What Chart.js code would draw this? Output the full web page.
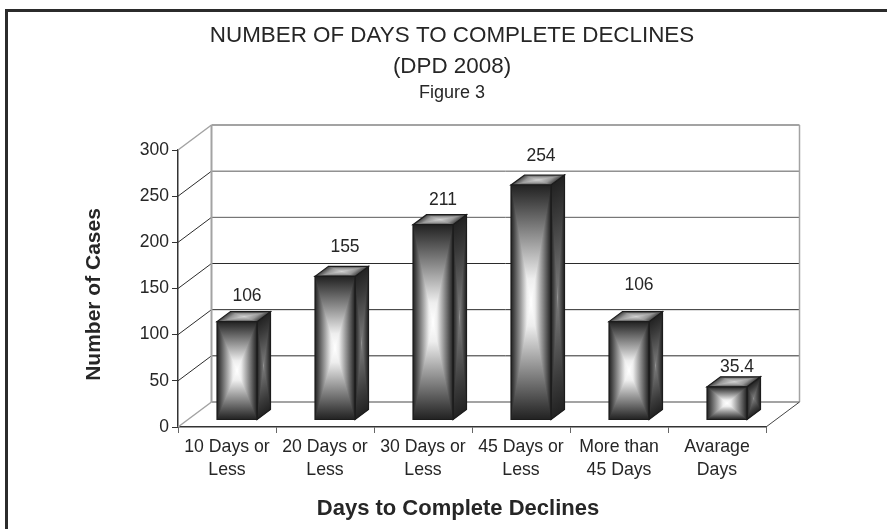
<!DOCTYPE html>
<html lang="en">

<head>
    <meta charset="UTF-8">
    <title>Number of Days to Complete Declines</title>
    <script src="https://cdn.jsdelivr.net/npm/chart.js"></script>
    <style>
        body {
            margin: 0;
            background: #fff;
        }

        #frame {
            position: absolute;
            left: 5px;
            top: 9px;
            width: 882px;
            height: 520px;
            box-sizing: border-box;
            border-top: 3px solid #2b2b2b;
            border-left: 3px solid #2b2b2b;
        }

        #chart {
            position: absolute;
            left: 0;
            top: 0;
        }
    </style>
</head>

<body>
    <div id="frame"></div>
    <canvas id="chart" width="887" height="529"></canvas>

    <script>
        // Data
        const categories = [
            ['10 Days or', 'Less'],
            ['20 Days or', 'Less'],
            ['30 Days or', 'Less'],
            ['45 Days or', 'Less'],
            ['More than', '45 Days'],
            ['Avarage', 'Days']
        ];
        const cases = [106, 155, 211, 254, 106, 35.4];
        const titleLines = ['NUMBER OF DAYS TO COMPLETE DECLINES', '(DPD 2008)'];
        const subtitleText = 'Figure 3';
        const xAxisTitle = 'Days to Complete Declines';
        const yAxisTitle = 'Number of Cases';

        // 3D look
        const WALL_DX = 33.5, WALL_DY = 25;   // axis -> back wall
        const BAR_DX = 10, BAR_DY = 7.5;      // axis -> bar front
        const SIDE_DX = 13.5, SIDE_DY = 10;   // bar front -> bar back
        const labelLift = [33, 37, 32, 36, 44, 27];
        const FONT = '"Liberation Sans", Arial, sans-serif';
        const TEXT = '#262626';

        function line(ctx, x1, y1, x2, y2, color, width) {
            ctx.beginPath();
            ctx.moveTo(x1, y1);
            ctx.lineTo(x2, y2);
            ctx.strokeStyle = color;
            ctx.lineWidth = width;
            ctx.stroke();
        }

        // Rectangular "from centre" gradient on the parallelogram origin, u, v
        function ringFace(ctx, ox, oy, ux, uy, vx, vy, stops) {
            const grad = (x1, y1, x2, y2) => {
                const g = ctx.createLinearGradient(x1, y1, x2, y2);
                stops.forEach(s => g.addColorStop(s[0], s[1]));
                return g;
            };
            ctx.save();
            ctx.transform(ux, uy, vx, vy, ox, oy);
            // left/right part first, so no seams show under the two triangles
            ctx.fillStyle = grad(0, 0, 0.5, 0);
            ctx.fillRect(0, 0, 0.5, 1);
            ctx.fillStyle = grad(1, 0, 0.5, 0);
            ctx.fillRect(0.5, 0, 0.5, 1);
            [[0, 0.5], [1, 0.5]].forEach(p => {
                ctx.fillStyle = grad(0, p[0], 0, p[1]);
                ctx.beginPath();
                ctx.moveTo(0, p[0]);
                ctx.lineTo(1, p[0]);
                ctx.lineTo(0.5, 0.5);
                ctx.closePath();
                ctx.fill();
            });
            ctx.restore();
            ctx.beginPath();
            ctx.moveTo(ox, oy);
            ctx.lineTo(ox + ux, oy + uy);
            ctx.lineTo(ox + ux + vx, oy + uy + vy);
            ctx.lineTo(ox + vx, oy + vy);
            ctx.closePath();
            ctx.strokeStyle = '#1c1c1c';
            ctx.lineWidth = 1.2;
            ctx.stroke();
        }

        const FRONT = [[0, '#222'], [0.1, '#3a3a3a'], [0.5, '#a0a0a0'], [0.8, '#eee'], [1, '#fff']];
        const SIDE = [[0, '#222'], [0.3, '#3a3a3a'], [0.8, '#6a6a6a'], [1, '#7a7a7a']];
        const TOP = [[0, '#444'], [0.4, '#999'], [1, '#d0d0d0']];

        // Walls, floor and grid behind the bars
        const wallsPlugin = {
            id: 'walls',
            beforeDatasetsDraw(chart) {
                const ctx = chart.ctx;
                const x = chart.scales.x, y = chart.scales.y;
                const gray = '#a3a3a3';
                ctx.save();
                y.ticks.forEach(t => {
                    const py = y.getPixelForValue(t.value);
                    if (t.value === 0 || t.value === 300) return;
                    const c = t.value >= 200 ? '#5a5a5a' : '#2b2b2b';
                    line(ctx, x.left, py, x.left + WALL_DX, py - WALL_DY, '#2b2b2b', 1);
                    line(ctx, x.left + WALL_DX, py - WALL_DY, x.right + WALL_DX, py - WALL_DY, c, 1);
                });
                const top = y.top, bottom = y.bottom;
                line(ctx, x.left + WALL_DX, top - WALL_DY, x.left + WALL_DX, bottom - WALL_DY, gray, 2);
                line(ctx, x.right + WALL_DX, top - WALL_DY, x.right + WALL_DX, bottom - WALL_DY, gray, 1.5);
                line(ctx, x.left + WALL_DX, top - WALL_DY, x.right + WALL_DX, top - WALL_DY, gray, 2);
                line(ctx, x.left + WALL_DX, bottom - WALL_DY, x.right + WALL_DX, bottom - WALL_DY, gray, 2);
                line(ctx, x.left, top, x.left + WALL_DX, top - WALL_DY, gray, 1.5);
                line(ctx, x.left, bottom, x.left + WALL_DX, bottom - WALL_DY, gray, 1.5);
                line(ctx, x.right, bottom, x.right + WALL_DX, bottom - WALL_DY, '#444', 1);
                ctx.restore();
            },
            // The library's bars are transparent: their positions carry the 3D boxes
            afterDatasetsDraw(chart) {
                const ctx = chart.ctx;
                const bars = chart.getDatasetMeta(0).data;
                ctx.save();
                bars.forEach((bar, i) => {
                    const w = bar.width;
                    const left = bar.x - w / 2 + BAR_DX;
                    const top = bar.y - BAR_DY;
                    const h = bar.base - bar.y + 0.5;
                    ringFace(ctx, left + w, top, SIDE_DX, -SIDE_DY, 0, h, SIDE);
                    ringFace(ctx, left, top, w, 0, SIDE_DX, -SIDE_DY, TOP);
                    ringFace(ctx, left, top, w, 0, 0, h, FRONT);

                    ctx.fillStyle = TEXT;
                    ctx.font = '17.5px ' + FONT;
                    ctx.textAlign = 'center';
                    ctx.textBaseline = 'middle';
                    ctx.fillText(String(cases[i]), bar.x + 20, bar.y - labelLift[i]);
                });

                // axis titles
                ctx.font = 'bold 22px ' + FONT;
                ctx.fillText(xAxisTitle, 458, 509);
                ctx.font = 'bold 21px ' + FONT;
                ctx.translate(94, 294.5);
                ctx.rotate(-Math.PI / 2);
                ctx.fillText(yAxisTitle, 0, 0);
                ctx.restore();
            }
        };

        new Chart(document.getElementById('chart').getContext('2d'), {
            type: 'bar',
            data: {
                labels: categories,
                datasets: [{
                    data: cases,
                    backgroundColor: 'transparent',
                    borderWidth: 0,
                    barPercentage: 0.408,
                    categoryPercentage: 1
                }]
            },
            plugins: [wallsPlugin],
            options: {
                responsive: false,
                animation: false,
                layout: {
                    padding: { left: 138, right: 121, top: 0, bottom: 0 }
                },
                plugins: {
                    legend: { display: false },
                    tooltip: { enabled: false },
                    title: {
                        display: true,
                        text: titleLines,
                        color: TEXT,
                        font: { family: FONT, size: 22.4, weight: 'normal', lineHeight: 1.384 },
                        padding: { top: 20.5, bottom: 0 }
                    },
                    subtitle: {
                        display: true,
                        text: subtitleText,
                        color: TEXT,
                        font: { family: FONT, size: 18, weight: 'normal', lineHeight: 1.2 },
                        padding: { top: 0, bottom: 45.9 }
                    }
                },
                scales: {
                    x: {
                        afterFit(scale) { scale.height = 102; },
                        border: { color: '#333', width: 1.5 },
                        grid: { drawOnChartArea: false, color: '#666', tickLength: 6, offset: true },
                        ticks: {
                            color: TEXT,
                            font: { family: FONT, size: 17.7, lineHeight: 1.3 },
                            padding: 3,
                            autoSkip: false,
                            maxRotation: 0
                        }
                    },
                    y: {
                        min: 0,
                        max: 300,
                        afterFit(scale) { scale.width = 40; },
                        border: { color: '#333', width: 1.5 },
                        grid: { drawOnChartArea: false, color: '#333', tickLength: 6 },
                        ticks: {
                            stepSize: 50,
                            color: TEXT,
                            font: { family: FONT, size: 17.5 },
                            padding: 3
                        }
                    }
                }
            }
        });
    </script>
</body>

</html>
